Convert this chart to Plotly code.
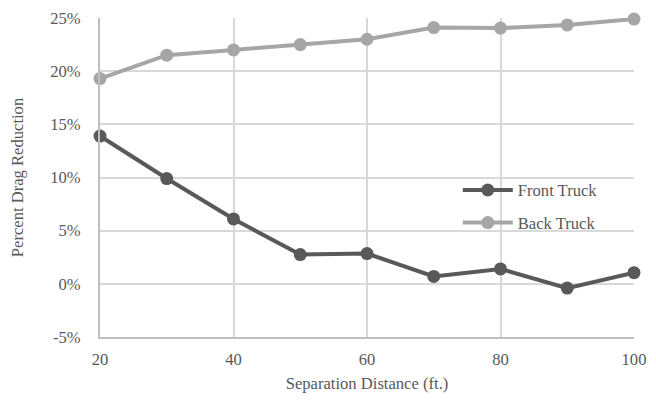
import plotly.graph_objects as go

distance = [20, 30, 40, 50, 60, 70, 80, 90, 100]
front_truck = [13.9, 9.9, 6.1, 2.75, 2.85, 0.7, 1.4, -0.4, 1.05]
back_truck = [19.3, 21.5, 22.0, 22.5, 23.0, 24.1, 24.05, 24.35, 24.9]

y_ticks = [-5, 0, 5, 10, 15, 20, 25]
y_labels = ["-5%", "0%", "5%", "10%", "15%", "20%", "25%"]
x_ticks = [20, 40, 60, 80, 100]

FONT = "Liberation Serif"
TXT = "#595959"
SIZE = 16.6

fig = go.Figure()
fig.add_trace(go.Scatter(
    x=distance, y=front_truck, mode="lines+markers", name="Front Truck",
    legendgroup="a", cliponaxis=False,
    line=dict(color="#595959", width=4),
    marker=dict(color="#595959", size=13),
))
fig.add_trace(go.Scatter(
    x=distance, y=back_truck, mode="lines+markers", name="Back Truck",
    legendgroup="b", cliponaxis=False,
    line=dict(color="#A6A6A6", width=4),
    marker=dict(color="#A6A6A6", size=13),
))

fig.update_layout(
    width=656, height=403,
    margin=dict(l=100, r=22, t=18, b=66),
    paper_bgcolor="white", plot_bgcolor="white",
    font=dict(family=FONT, size=SIZE, color=TXT),
    showlegend=True,
    legend=dict(
        x=0.67, y=0.515, xanchor="left", yanchor="top",
        bgcolor="rgba(0,0,0,0)", font=dict(family=FONT, size=SIZE, color=TXT),
        traceorder="grouped", tracegroupgap=8, itemwidth=50,
    ),
    xaxis=dict(
        range=[20, 100], tickvals=x_ticks, showgrid=True, automargin=False,
        gridcolor="#D9D9D9", gridwidth=2,
        showline=True, linecolor="#BFBFBF", linewidth=2,
        zeroline=False, ticks="", ticklabelstandoff=6,
        tickfont=dict(family=FONT, size=SIZE, color=TXT),
        title=dict(text="Separation Distance (ft.)", font=dict(family=FONT, size=SIZE, color=TXT), standoff=9),
    ),
    yaxis=dict(
        range=[-5, 25], tickvals=y_ticks, ticktext=y_labels, showgrid=True, automargin=False,
        gridcolor="#D9D9D9", gridwidth=2,
        showline=True, linecolor="#BFBFBF", linewidth=2,
        zeroline=False, ticks="", ticklabelstandoff=14,
        tickfont=dict(family=FONT, size=SIZE, color=TXT),
        title=dict(text="Percent Drag Reduction", font=dict(family=FONT, size=SIZE, color=TXT), standoff=22),
    ),
)
fig.write_html("out.html")
